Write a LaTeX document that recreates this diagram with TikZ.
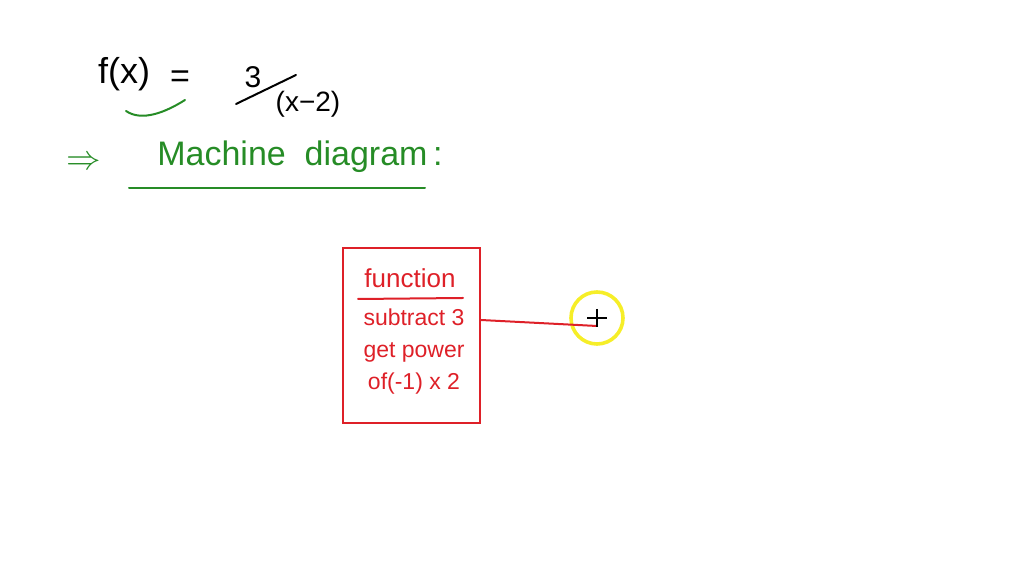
\documentclass[tikz,border=0pt]{standalone}
\usepackage{fontspec}
\setmainfont{Liberation Sans}
\usetikzlibrary{positioning}
\definecolor{penred}{RGB}{222,32,40}
\definecolor{pengreen}{RGB}{38,140,38}
\definecolor{ringyellow}{RGB}{246,238,40}

\begin{document}
\begin{tikzpicture}[x=0.5pt,y=-0.5pt,
  pen line/.style={line width=1pt,line cap=round},
  ink text/.style={font=\fontsize{17}{20}\selectfont,inner sep=0pt},
  green text/.style={text=pengreen,font=\fontsize{16}{19}\selectfont,inner sep=0pt},
  red text/.style={text=penred,font=\fontsize{11.5}{13}\selectfont,inner sep=0pt,
                   text height=8pt,text depth=2.5pt},
  machine node/.style={draw=penred,line width=0.9pt,minimum width=68.5pt,
                   minimum height=87.5pt},
  cursor node/.style={circle,draw=ringyellow,line width=1.8pt,minimum size=26pt}]

  \useasboundingbox (0,0) rectangle (1024,576);

  % the formula
  \node[ink text,font=\fontsize{18}{21}\selectfont] (f) at (124,74) {f(x)};
  \node[ink text] (eq) at (180,79) {=};
  \node[ink text,font=\fontsize{15}{18}\selectfont] (num) at (253,77) {3};
  \node[ink text,font=\fontsize{14}{17}\selectfont] (den) at (308,104) {(x−2)};
  \draw[pen line] (236,104) -- (296,75);
  \draw[pen line,pengreen] (126,111) .. controls (142,122) and (166,112) .. (185,100);

  % heading
  \node[green text] (imp) at (84,163) {$\Rightarrow$};
  \node[green text,font=\fontsize{17}{20}\selectfont] (head) at (300,157) {Machine\ \ diagram\,:};
  \draw[pen line,pengreen] (129,188) -- (425,188);

  % machine box
  \node[machine node] (machine) at (411.5,335.5) {};
  \node[red text,font=\fontsize{13}{15}\selectfont] (fn) at (410,282) {function};
  \draw[pen line,penred] (358,299) -- (463,298);
  \node[red text] (sub) at (414,320) {subtract 3};
  \node[red text] (pow) [below=16pt of sub.center,anchor=center] {get power};
  \node[red text] (mul) [below=16pt of pow.center,anchor=center] {of(-1) x 2};

  % cursor
  \node[cursor node] (cursor) at (597,318) {};
  \coordinate (tip) at (597,326);
  \draw[pen line,penred] (sub.east -| machine.east) -- (tip);
  \draw[line width=0.6pt] (cursor.center) +(-10,0) -- +(10,0)
                          (cursor.center) +(0,-9) -- +(0,9);

\end{tikzpicture}
\end{document}
